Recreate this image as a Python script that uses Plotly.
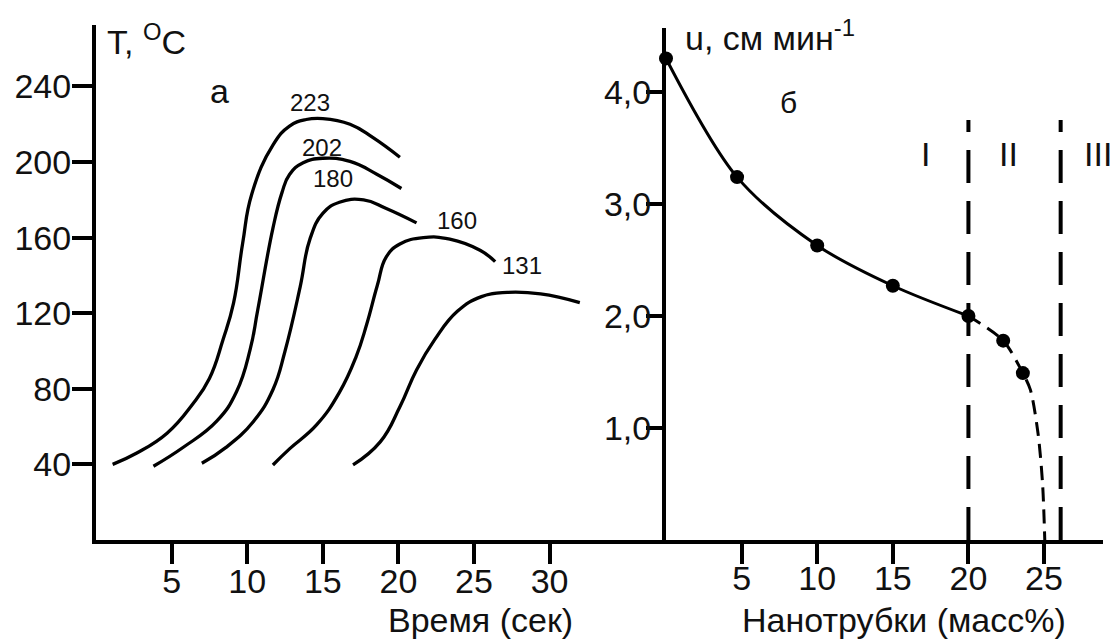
import plotly.graph_objects as go

W, H = 1115, 641
FONT = "Liberation Sans, Arial, sans-serif"
INK = "#111"

# ---- panel (a): temperature vs. time, one curve per peak temperature ----
peak_labels = ["223", "202", "180", "160", "131"]

t_223 = [1.1, 2.7, 4.7, 6.4, 7.5, 8.4, 9.1, 9.7, 10.3, 11.7, 12.8, 13.9, 15.0, 16.8, 18.3, 20.1]
T_223 = [40.0, 46.0, 56.5, 72.0, 85.5, 106.0, 125.5, 157.0, 183.0, 209.0, 219.0, 222.5, 223.0, 220.0, 213.0, 202.5]

t_202 = [3.8, 5.8, 8.0, 9.3, 10.2, 10.7, 11.7, 12.3, 12.8, 13.7, 15.0, 16.8, 18.6, 20.2]
T_202 = [39.0, 49.2, 63.0, 78.6, 101.0, 121.8, 164.9, 183.8, 193.4, 199.6, 202.0, 200.3, 193.4, 186.0]

t_180 = [7.0, 8.6, 10.4, 11.7, 12.5, 13.5, 14.15, 15.0, 16.1, 17.7, 19.2, 21.2]
T_180 = [40.6, 49.0, 62.6, 79.5, 99.9, 133.8, 159.2, 172.8, 178.7, 180.0, 175.4, 167.8]

t_160 = [11.7, 12.8, 14.6, 16.1, 17.2, 17.9, 18.6, 19.2, 20.1, 21.65, 23.4, 25.4, 26.4]
T_160 = [39.7, 48.2, 61.0, 78.1, 96.9, 114.0, 134.5, 149.8, 156.6, 160.0, 159.2, 153.3, 147.3]

t_131 = [17.0, 18.8, 20.1, 21.2, 22.4, 23.9, 25.5, 27.2, 29.4, 32.0]
T_131 = [39.7, 51.9, 70.5, 90.0, 106.0, 121.0, 128.8, 131.0, 130.2, 125.6]

label_t = [14.15, 14.95, 15.7, 23.9, 28.2]
label_T = [231.7, 207.9, 191.3, 169.3, 145.5]

t_ticks = [5, 10, 15, 20, 25, 30]
T_ticks = [40, 80, 120, 160, 200, 240]

# ---- panel (б): burning rate vs. nanotube content ----
c_pts = [0, 4.7, 10, 15, 20, 22.3, 23.6]
u_pts = [4.3, 3.24, 2.63, 2.27, 2.0, 1.78, 1.49]

c_solid = [0, 4.7, 10, 15, 20]
u_solid = [4.3, 3.24, 2.63, 2.27, 2.0]

c_dash = [20, 22.3, 23.6, 24.1, 24.6, 24.9, 25.05]
u_dash = [2.0, 1.78, 1.49, 1.34, 0.955, 0.51, 0.0]

region_bounds = [20, 26.1]
region_top = 3.75
region_labels = ["I", "II", "III"]

c_ticks = [5, 10, 15, 20, 25]
u_ticks = [1, 2, 3, 4]
u_ticktext = ["1,0", "2,0", "3,0", "4,0"]


def px(x):
    return x / W


def py(y):
    return 1 - y / H


fig = go.Figure()

for tt, TT in [(t_223, T_223), (t_202, T_202), (t_180, T_180), (t_160, T_160), (t_131, T_131)]:
    fig.add_trace(go.Scatter(
        x=tt, y=TT, mode="lines", xaxis="x", yaxis="y",
        line=dict(color="black", width=3.3, shape="spline", smoothing=1.3),
        hoverinfo="skip", showlegend=False,
    ))

fig.add_trace(go.Scatter(
    x=c_solid, y=u_solid, mode="lines", xaxis="x2", yaxis="y2",
    line=dict(color="black", width=3, shape="spline", smoothing=0.9),
    showlegend=False, cliponaxis=False,
))
fig.add_trace(go.Scatter(
    x=c_dash, y=u_dash, mode="lines", xaxis="x2", yaxis="y2",
    line=dict(color="black", width=3, shape="spline", smoothing=0.8, dash="14px,8px"),
    showlegend=False, cliponaxis=False,
))
fig.add_trace(go.Scatter(
    x=c_pts, y=u_pts, mode="markers", xaxis="x2", yaxis="y2",
    marker=dict(color="black", size=14),
    showlegend=False, cliponaxis=False,
))

# region boundaries
for xb in region_bounds:
    fig.add_trace(go.Scatter(
        x=[xb, xb], y=[0, region_top], mode="lines", xaxis="x2", yaxis="y2",
        line=dict(color="black", width=4, dash="33px,18px"),
        showlegend=False, cliponaxis=False,
    ))

axis_common = dict(
    showline=True, linecolor="black", linewidth=4,
    ticks="outside", tickcolor="black", tickwidth=4,
    showgrid=False, zeroline=False,
    tickfont=dict(family=FONT, size=34, color=INK),
)

fig.update_layout(
    width=W, height=H,
    margin=dict(l=0, r=0, t=0, b=0),
    paper_bgcolor="white", plot_bgcolor="white",
    font=dict(family=FONT, color=INK),
    xaxis=dict(domain=[px(96), px(666)], range=[0, 37.7], anchor="y",
               tickvals=t_ticks, ticklen=20, ticklabelstandoff=-12, **axis_common),
    yaxis=dict(domain=[py(540), py(25)], range=[0, 272.5], anchor="x",
               tickvals=T_ticks, ticklen=20, ticklabelstandoff=-6, **axis_common),
    xaxis2=dict(domain=[px(666), px(1103)], range=[0, 28.9], anchor="y2",
                tickvals=c_ticks, ticklen=20, ticklabelstandoff=-15, **axis_common),
    yaxis2=dict(domain=[py(540), py(28)], range=[0, 512 / 112], anchor="x2",
                tickvals=u_ticks, ticktext=u_ticktext, ticklen=16, ticklabelstandoff=-12,
                **axis_common),
)


def note(x, y, text, size, xanchor="center", yanchor="middle"):
    return dict(x=px(x), y=py(y), xref="paper", yref="paper", text=text, showarrow=False,
                xanchor=xanchor, yanchor=yanchor, font=dict(size=size, family=FONT, color=INK))


ann = []
for lab, lt, lT in zip(peak_labels, label_t, label_T):
    ann.append(dict(x=lt, y=lT, xref="x", yref="y", text=lab, showarrow=False,
                    xanchor="center", yanchor="middle",
                    font=dict(size=24, family=FONT, color=INK)))

ann += [
    note(105, 40, "T, <sup>O</sup>C", 34, xanchor="left"),
    note(683, 36, "u, см мин<sup>-1</sup>", 34, xanchor="left"),
    note(220, 91, "а", 34),
    note(788, 103, "б", 30),
    note(480, 641, "Время (сек)", 34, yanchor="bottom"),
    note(904, 641, "Нанотрубки (масс%)", 34, yanchor="bottom"),
]
for lab, xp in zip(region_labels, [925, 1008, 1098]):
    ann.append(note(xp, 154, lab, 34))

fig.update_layout(annotations=ann)

fig.write_html("out.html")
